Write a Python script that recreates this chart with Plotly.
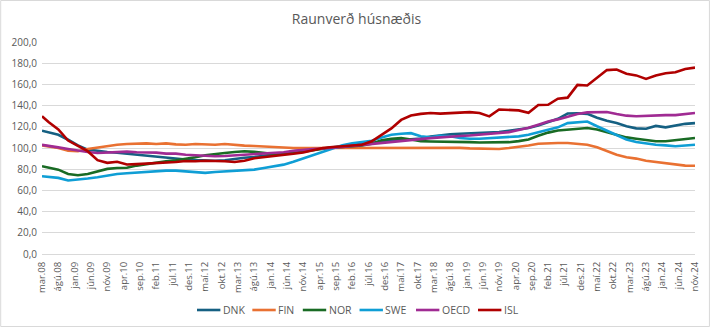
import plotly.graph_objects as go

# Month labels for the category axis: mar.08 .. nóv.24
month_abbr = ["jan", "feb", "mar", "apr", "maí", "jún", "júl", "ágú", "sep", "okt", "nóv", "des"]
months = []
for year in range(2008, 2025):
    for mi, name in enumerate(month_abbr):
        if (year == 2008 and mi < 2) or (year == 2024 and mi > 10):
            continue
        months.append(f"{name}.{str(year)[2:]}")

# Observation months: mar.08, then quarterly from maí.08 to nóv.24
obs_months = [months[0]] + months[2::3]

# Real house price index (2015 = 100)
dnk = [116.3, 115, 112.5, 107.8, 102.5, 98.5, 97, 96.2, 95.5, 94.5, 93.5, 93, 92.2, 91.2, 90.2, 89.2,
       88.6, 88.2, 88, 88.5, 89.8, 90.8, 91.5, 92.5, 93.5, 95, 96.8, 98, 99, 99.6, 100.5, 101.5, 102.8,
       104, 105, 106.2, 107, 107.8, 108.3, 109, 110.9, 112.3, 113, 113.4, 113.7, 114, 114.6, 115, 116.2,
       117.8, 118.8, 121.2, 124, 127.5, 132.5, 132.8, 132.2, 128.5, 125.7, 123.5, 120.5, 118.5, 118.2,
       120.8, 119.5, 121.2, 122.8, 123.5]
fin = [102.5, 101.6, 100, 97.5, 96.9, 99, 100.6, 102.2, 103.1, 103.8, 104.4, 104.4, 103.8, 104.4, 103.4,
       103.1, 103.8, 103.1, 103.1, 103.8, 102.8, 102.2, 101.9, 101.3, 100.6, 100.3, 100, 100, 99.8, 100,
       100, 100, 100, 100, 100.2, 100.4, 100.3, 100.4, 100.3, 100.1, 100, 100, 100, 100.1, 99.6, 99.3, 99,
       99.1, 100, 101, 102.4, 104, 104.6, 104.7, 104.7, 104.1, 103, 100.6, 97, 93.7, 91.2, 90, 88, 86.8,
       85.3, 84.3, 83.4, 83.3]
nor = [82.8, 81.8, 79.6, 75.5, 74.3, 75.5, 78, 80.3, 81.2, 81.4, 83.4, 85, 86.5, 87.5, 88.4, 89.7, 91.2,
       93.1, 94.4, 95.3, 96.2, 96.9, 96.3, 95.3, 94.4, 94.5, 95.3, 96.5, 98, 99.5, 100.5, 100.9, 101.5,
       102.4, 104, 107.3, 108.7, 109.3, 108, 106.5, 106.2, 106.2, 106.2, 106, 105.5, 105.2, 105.2, 105.5,
       105.5, 106.5, 108, 111.5, 114.5, 116.5, 117.3, 118.2, 118.8, 117.5, 115, 112, 110, 108.8, 107.5,
       106.3, 106.3, 107.2, 108.5, 109.4]
swe = [73.4, 73, 71.8, 69.3, 69.9, 71.2, 72.4, 74.3, 75.5, 76.2, 76.8, 78, 78.7, 78.7, 78.7, 78, 77.4,
       76.5, 77.4, 78, 78.7, 79, 79.6, 81.2, 82.8, 84.3, 87, 90, 93, 96, 99.5, 102.5, 104.5, 105.5, 106.8,
       110, 112.5, 113.4, 114, 111, 110, 111.5, 111, 109.5, 108.7, 108.7, 109.3, 110, 110, 111, 112.5, 115,
       117, 119.5, 123.5, 124.2, 125, 120.5, 116.3, 112.5, 108, 105.6, 104, 103, 102.5, 101.6, 102.3, 103]
oecd = [103, 102.2, 100.6, 99, 97.5, 96.2, 95.3, 95.6, 96, 96.6, 96, 96, 95.6, 94.7, 94.7, 93.7, 93.1,
        92.5, 92.2, 92.5, 93.1, 93.7, 94, 94.4, 95, 96, 97.3, 98.3, 99, 99.5, 100, 101, 102, 103, 104, 105,
        106, 107, 107.8, 108.5, 109.3, 110, 110.9, 111.3, 111.8, 112.5, 113, 114, 115, 117, 119, 122, 125,
        127, 129.5, 132, 133.6, 134, 134, 132, 130.5, 130, 130.4, 131, 131, 131, 132, 133]
isl = [130, 124.5, 117.5, 107, 102, 97, 88.5, 86, 87, 84.5, 84.8, 85.2, 85.8, 86.5, 86.8, 87.8, 87.5, 88,
       88, 87.5, 86.8, 88, 90.3, 91.2, 92.2, 93.5, 94.5, 95.8, 98.2, 100, 100.9, 101.5, 102, 103, 106.3,
       112.3, 118.5, 126.5, 130.7, 132.2, 133, 132.4, 133, 133.5, 133.8, 133, 129.8, 136.3, 136.2, 135.5,
       133.2, 140.5, 140.8, 146.5, 147.5, 159.5, 159, 166, 173.5, 174, 170, 168.5, 165.2, 168.4, 170.5,
       171.5, 174.6, 175.8]

series = [
    ("DNK", dnk, "#156082"),
    ("FIN", fin, "#E97132"),
    ("NOR", nor, "#196B24"),
    ("SWE", swe, "#0F9ED5"),
    ("OECD", oecd, "#A02B93"),
    ("ISL", isl, "#B00000"),
]

y_ticks = list(range(0, 201, 20))
x_ticks = months[::5]

fig = go.Figure()
for name, values, color in series:
    fig.add_trace(go.Scatter(
        x=obs_months, y=values, name=name, mode="lines",
        line=dict(color=color, width=2.6), showlegend=False,
    ))

W, H = 713, 327
ml, mr, mt, mb = 42, 15, 42, 73
pw, ph = W - ml - mr, H - mt - mb


def px_x(px):
    return (px - ml) / pw


def px_y(py):
    return (mt + ph - py) / ph


# Compact legend row below the axis: short line followed directly by the label
legend_line_x = [197.7, 253.3, 304.0, 361.0, 417.7, 480.0]
legend_line_len = 23.5
legend_y = 310
shapes = [dict(
    type="rect", xref="paper", yref="paper",
    x0=px_x(0.5), x1=px_x(W - 0.5), y0=px_y(H - 0.5), y1=px_y(0.5),
    line=dict(color="#D9D9D9", width=1), fillcolor="rgba(0,0,0,0)", layer="below",
)]
annotations = []
for (name, _, color), x0 in zip(series, legend_line_x):
    shapes.append(dict(
        type="line", xref="paper", yref="paper",
        x0=px_x(x0), x1=px_x(x0 + legend_line_len), y0=px_y(legend_y), y1=px_y(legend_y),
        line=dict(color=color, width=2.6),
    ))
    annotations.append(dict(
        text=name, xref="paper", yref="paper", x=px_x(x0 + legend_line_len + 0.5), y=px_y(legend_y),
        xanchor="left", yanchor="middle", showarrow=False,
        font=dict(size=10.5, color="#595959"),
    ))

fig.update_layout(
    width=W, height=H, autosize=False,
    margin=dict(l=ml, r=mr, t=mt, b=mb, pad=0),
    paper_bgcolor="white", plot_bgcolor="white",
    font=dict(family="Open Sans, sans-serif", color="#595959", size=10),
    separators=",.",
    title=dict(text="Raunverð húsnæðis", x=0.5, xanchor="center", y=0.943, yanchor="middle",
               font=dict(size=14, color="#595959")),
    showlegend=False,
    xaxis=dict(
        type="category", categoryorder="array", categoryarray=months,
        range=[0, len(months) - 1],
        tickmode="array", tickvals=x_ticks, ticktext=x_ticks,
        tickangle=-90, tickfont=dict(size=9.5, color="#595959"), ticklabelstandoff=3,
        showgrid=False, showline=True, linecolor="#D9D9D9", linewidth=1,
        ticks="", zeroline=False,
    ),
    yaxis=dict(
        range=[0, 200], tickmode="array", tickvals=y_ticks, tickformat=".1f",
        tickfont=dict(size=10, color="#595959"), ticklabelstandoff=4,
        showgrid=True, gridcolor="#D9D9D9", gridwidth=1,
        zeroline=False, showline=False, ticks="",
    ),
    shapes=shapes,
    annotations=annotations,
)

fig.write_html("out.html")
